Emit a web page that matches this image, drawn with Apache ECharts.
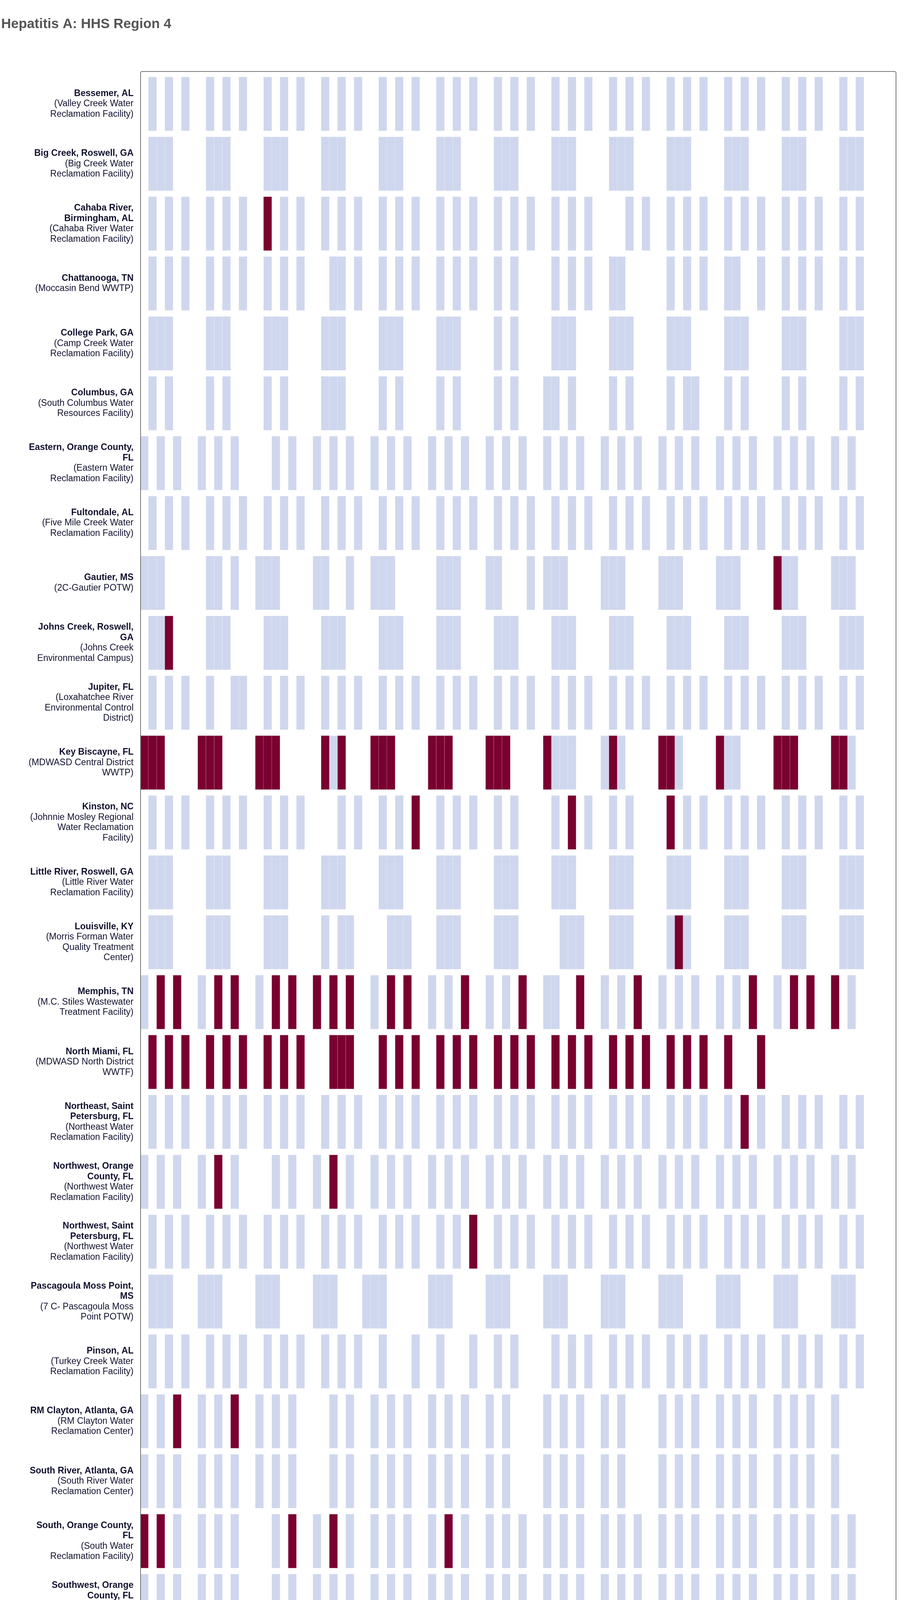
<!DOCTYPE html>
<html>
<head>
<meta charset="utf-8">
<title>Hepatitis A: HHS Region 4</title>
<script src="https://cdn.jsdelivr.net/npm/echarts@6/dist/echarts.min.js"></script>
<style>
	html, body { margin: 0; padding: 0; background: #fff; }
	#chart { width: 2336px; height: 5252px; }
</style>
</head>
<body>
<div id="chart"></div>
<script>
	/*----------------数据-------------------*/
	// day 0 = May 3

	var siteNames = [
		'Bessemer, AL', 'Big Creek, Roswell, GA', 'Cahaba River,\nBirmingham, AL', 'Chattanooga, TN',
		'College Park, GA', 'Columbus, GA', 'Eastern, Orange County,\nFL', 'Fultondale, AL',
		'Gautier, MS', 'Johns Creek, Roswell,\nGA', 'Jupiter, FL', 'Key Biscayne, FL',
		'Kinston, NC', 'Little River, Roswell, GA', 'Louisville, KY', 'Memphis, TN',
		'North Miami, FL', 'Northeast, Saint\nPetersburg, FL', 'Northwest, Orange\nCounty, FL', 'Northwest, Saint\nPetersburg, FL',
		'Pascagoula Moss Point,\nMS', 'Pinson, AL', 'RM Clayton, Atlanta, GA', 'South River, Atlanta, GA',
		'South, Orange County,\nFL', 'Southwest, Orange\nCounty, FL', 'Southwest, Saint\nPetersburg, FL', 'Tallahassee, FL',
		'Utoy Creek, Atlanta, GA', 'Village Creek,\nBirmingham, AL', 'Wilson, NC', 'Winston-Salem, NC'
	];

	var facilityNames = [
		'(Valley Creek Water\nReclamation Facility)', '(Big Creek Water\nReclamation Facility)',
		'(Cahaba River Water\nReclamation Facility)', '(Moccasin Bend WWTP)',
		'(Camp Creek Water\nReclamation Facility)', '(South Columbus Water\nResources Facility)',
		'(Eastern Water\nReclamation Facility)', '(Five Mile Creek Water\nReclamation Facility)',
		'(2C-Gautier POTW)', '(Johns Creek\nEnvironmental Campus)',
		'(Loxahatchee River\nEnvironmental Control\nDistrict)', '(MDWASD Central District\nWWTP)',
		'(Johnnie Mosley Regional\nWater Reclamation\nFacility)', '(Little River Water\nReclamation Facility)',
		'(Morris Forman Water\nQuality Treatment\nCenter)', '(M.C. Stiles Wastewater\nTreatment Facility)',
		'(MDWASD North District\nWWTF)', '(Northeast Water\nReclamation Facility)',
		'(Northwest Water\nReclamation Facility)', '(Northwest Water\nReclamation Facility)',
		'(7 C- Pascagoula Moss\nPoint POTW)', '(Turkey Creek Water\nReclamation Facility)',
		'(RM Clayton Water\nReclamation Center)', '(South River Water\nReclamation Center)',
		'(South Water\nReclamation Facility)', '(Hamlin Water\nReclamation Facility)',
		'(Southwest Water\nReclamation Facility)', '(TPSmith Water\nReclamation Facility)',
		'(Utoy Creek Water\nReclamation Center)', '(Village Creek Water\nReclamation Facility)',
		'(City of Wilson - Hominy\nCreek Water Reclamation\nFacility)', '(Archie Elledge WWTP)'
	];

	// collection days (days after May 3), one list per site
	var sampleDays = [
		[1,3,5,8,10,12,15,17,19,22,24,26,29,31,33,36,38,40,43,45,47,50,52,54,57,59,61,64,66,68,71,73,75,78,80,82,85,87],
		[1,2,3,8,9,10,15,16,17,22,23,24,29,30,31,36,37,38,43,44,45,50,51,52,57,58,59,64,65,66,71,72,73,78,79,80,85,86,87],
		[1,3,5,8,10,12,15,17,19,22,24,26,29,31,33,36,38,40,43,45,47,50,52,54,59,61,64,66,68,71,73,75,78,80,82,85,87],
		[1,3,5,8,10,12,15,17,19,23,24,26,29,31,33,36,38,40,43,45,50,52,54,57,58,64,66,68,71,72,75,78,80,82,85,87],
		[1,2,3,8,9,10,15,16,17,22,23,24,29,30,31,36,37,38,43,45,50,51,52,57,58,59,64,65,66,71,72,73,78,79,80,85,86,87],
		[1,3,8,10,15,17,22,23,24,29,31,36,38,43,45,49,50,52,57,59,64,66,67,71,73,78,80,85,87],
		[0,2,4,7,9,11,16,18,21,23,25,28,30,32,35,37,39,42,44,46,49,51,53,56,58,60,63,65,67,70,72,74,77,79,81,84,86],
		[1,3,5,8,10,12,15,17,19,22,24,26,29,31,33,36,38,40,43,45,47,50,52,54,57,59,61,64,66,68,71,73,75,78,80,82,85,87],
		[0,1,2,8,9,11,14,15,16,21,22,25,28,29,30,36,37,38,42,43,47,49,50,51,56,57,58,63,64,65,70,71,72,77,78,79,84,85,86],
		[1,2,3,8,9,10,15,16,17,22,23,24,29,30,31,36,37,38,43,44,45,50,51,52,57,58,59,64,65,66,71,72,73,78,79,80,85,86,87],
		[1,3,5,8,11,12,15,17,19,22,24,26,29,31,33,36,38,40,43,45,47,50,52,54,57,59,61,64,66,68,71,73,75,78,80,82,85,87],
		[0,1,2,7,8,9,14,15,16,22,23,24,28,29,30,35,36,37,42,43,44,49,50,51,52,56,57,58,63,64,65,70,71,72,77,78,79,84,85,86],
		[1,3,5,8,10,12,15,17,19,24,26,29,31,33,36,38,40,43,45,50,52,54,57,59,64,66,68,71,73,75,78,80,82,85,87],
		[1,2,3,8,9,10,15,16,17,22,23,24,29,30,31,36,37,38,43,44,45,50,51,52,57,58,59,64,65,66,71,72,73,78,79,80,85,86,87],
		[1,2,3,8,9,10,15,16,17,22,24,25,30,31,32,36,37,38,43,44,45,51,52,53,57,58,59,64,65,66,71,72,73,78,79,80,85,86,87],
		[0,2,4,7,9,11,14,16,18,21,23,25,28,30,32,35,37,39,42,44,46,49,50,53,56,58,60,63,65,67,70,72,74,77,79,81,84,86],
		[1,3,5,8,10,12,15,17,19,23,24,25,29,31,33,36,38,40,43,45,47,50,52,54,57,59,61,64,66,68,71,75],
		[1,3,5,8,10,12,15,17,19,22,24,26,29,31,33,36,38,40,43,45,47,50,52,54,57,59,61,64,66,68,71,73,75,78,80,82,85,87],
		[0,2,4,7,9,11,16,18,21,23,25,28,30,32,35,37,39,42,44,46,49,51,53,56,58,60,63,65,67,70,72,74,77,79,81,84,86],
		[1,3,5,8,10,12,15,17,19,22,24,26,29,31,33,36,38,40,43,45,47,50,52,54,57,59,61,64,66,68,71,73,75,78,80,82,85,87],
		[1,2,3,7,8,9,14,15,16,21,22,23,27,28,29,35,36,37,42,43,44,49,50,51,56,57,58,63,64,65,70,71,72,77,78,79,84,85,86],
		[1,3,5,8,10,12,15,17,19,22,24,26,29,33,36,40,43,45,50,52,54,57,59,61,64,66,68,71,73,75,78,80,82,85,87],
		[0,2,4,7,9,11,14,16,18,23,25,28,30,32,35,37,39,42,44,49,51,53,56,58,63,65,67,70,72,74,77,79,81,84],
		[0,2,4,7,9,11,14,16,18,23,25,28,30,32,35,37,39,42,44,49,51,53,56,58,63,65,67,70,72,74,77,79,81,84],
		[0,2,4,7,9,11,16,18,21,23,25,28,30,32,35,37,39,42,44,46,49,51,53,56,58,60,63,65,67,70,72,74,77,79,81,84,86],
		[0,2,4,7,9,11,16,18,21,23,25,28,30,32,35,37,39,42,44,46,49,51,53,56,58,60,63,65,67,70,72,74,77,79,81,84,86],
		[1,3,5,8,10,12,15,17,19,22,24,26,29,31,33,36,38,40,43,45,47,50,52,54,57,59,61,64,66,68,71,73,75,78,80,82,85,87],
		[0,2,4,7,9,11,14,16,18,21,23,25,28,30,32,35,37,39,42,44,45,46,49,51,53,56,58,60,63,65,67,70,72,74,77,79,81,84,86],
		[0,2,4,7,9,11,14,16,18,23,25,28,30,32,35,37,39,42,44,49,51,53,56,58,63,65,67,70,72,74,77,79,81,84],
		[1,3,5,8,10,12,15,17,19,23,24,26,29,31,33,36,38,40,43,45,47,52,54,57,59,61,64,66,68,71,73,75,78,80,82,86,87],
		[1,3,5,8,10,12,15,17,19,24,26,29,31,33,36,38,40,43,45,47,50,52,54,57,64,66,68,71,73,75,78,80,82,85,87],
		[1,5,8,10,12,15,17,19,24,26,29,31,33,36,38,40,43,45,50,52,54,57,59,66,68,71,73,75,78,80,82,85,88]
	];

	// days with a detection, same order as sampleDays
	var detectedDays = [
		[], [], [15], [], [], [], [], [],
		[77], [3], [],
		[0,1,2,7,8,9,14,15,16,22,24,28,29,30,35,36,37,42,43,44,49,57,63,64,70,77,78,79,84,85],
		[33,52,64], [], [65],
		[2,4,9,11,16,18,21,23,25,30,32,39,46,53,60,74,79,81,84],
		[1,3,5,8,10,12,15,17,19,23,24,25,29,31,33,36,38,40,43,45,47,50,52,54,57,59,61,64,66,68,71,75],
		[73], [9,23], [40], [], [], [4,11], [],
		[0,2,18,23,37], [], [45], [60], [39], [8,10,66], [], []
	];

	var tickDays = [0, 7, 14, 21, 28, 35, 42, 49, 56, 63, 70, 77, 84, 91];
	var tickLabels = ['May 3', 'May 10', 'May 17', 'May 24', 'May 31', 'Jun 7', 'Jun 14',
		'Jun 21', 'Jun 28', 'Jul 5', 'Jul 12', 'Jul 19', 'Jul 26', 'Aug 2'];

	var colorNotDetected = '#cfd7ee';
	var colorDetected = '#79002f';
	var textColor = '#10102e';
	var fontName = '"Liberation Sans", Arial, Helvetica, sans-serif';

	/*----------------整理数据-------------------*/
	var notDetectedData = [];
	var detectedData = [];
	for (var r = 0; r < sampleDays.length; r++) {
		for (var k = 0; k < sampleDays[r].length; k++) {
			var day = sampleDays[r][k];
			if (detectedDays[r].indexOf(day) >= 0) {
				detectedData.push([day, r]);
			} else {
				notDetectedData.push([day, r]);
			}
		}
	}

	// one tile per collection day
	function renderTile(params, api) {
		var start = api.coord([api.value(0), api.value(1)]);
		var end = api.coord([api.value(0) + 1, api.value(1)]);
		var h = api.size([0, 1])[1] * 0.9;
		return {
			type: 'rect',
			shape: { x: start[0], y: start[1] - h / 2, width: end[0] - start[0], height: h },
			style: { fill: api.visual('color'), stroke: 'rgba(255,255,255,0.25)', lineWidth: 1 }
		};
	}

	function siteLabel(value, index) {
		var lines = [];
		siteNames[index].split('\n').forEach(function (s) { lines.push('{b|' + s + '}'); });
		facilityNames[index].split('\n').forEach(function (s) { lines.push('{n|' + s + '}'); });
		return lines.join('\n');
	}

	/*----------------渲染图表-------------------*/
	var chart = echarts.init(document.getElementById('chart'), null, { renderer: 'canvas' });
	var option = {
		backgroundColor: '#fff',
		animation: false,
		textStyle: { fontFamily: fontName },
		title: {
			text: 'Hepatitis A: HHS Region 4',
			left: -2,
			top: 40,
			textStyle: { fontFamily: fontName, fontSize: 35, fontWeight: 'bold', color: '#555' }
		},
		grid: {
			left: 359,
			right: 41,
			top: 189.3,
			bottom: 157,
			outerBoundsMode: 'none',
			containLabel: false
		},
		xAxis: {
			type: 'value',
			min: 0,
			max: 91.9,
			interval: 7,
			offset: 7,
			name: 'Collection Date',
			nameLocation: 'middle',
			nameGap: 51,
			nameTextStyle: { fontFamily: fontName, fontSize: 30, color: '#111' },
			splitLine: { show: false },
			axisLine: { show: false },
			axisTick: {
				show: true,
				length: 11,
				customValues: tickDays,
				lineStyle: { color: '#777', width: 2 }
			},
			axisLabel: {
				margin: 13,
				fontSize: 23,
				color: textColor,
				customValues: tickDays,
				formatter: function (v) {
					var i = tickDays.indexOf(v);
					return i >= 0 ? tickLabels[i] : '';
				}
			}
		},
		yAxis: {
			type: 'category',
			inverse: true,
			data: siteNames,
			axisLine: { show: false },
			axisTick: { show: false },
			splitLine: { show: false },
			axisLabel: {
				margin: 17,
				interval: 0,
				formatter: siteLabel,
				rich: {
					b: { fontFamily: fontName, fontSize: 23, fontWeight: 'bold', color: textColor, lineHeight: 26.5, align: 'right' },
					n: { fontFamily: fontName, fontSize: 23, color: textColor, lineHeight: 26.5, align: 'right' }
				}
			}
		},
		legend: {
			left: 437,
			top: 5212,
			orient: 'horizontal',
			icon: 'rect',
			itemWidth: 15,
			itemHeight: 24,
			itemGap: 33,
			selectedMode: false,
			textStyle: { fontFamily: fontName, fontSize: 22, color: '#666', padding: [0, 0, 0, 10] },
			data: [
				{ name: 'Not detected', itemStyle: { color: '#b4c4e6' } },
				{ name: 'Detected', itemStyle: { color: colorDetected } }
			]
		},
		graphic: [
			{
				type: 'rect',
				z: 100,
				silent: true,
				shape: { x: 360, y: 183, width: 1935, height: 4919, r: 4 },
				style: { fill: 'none', stroke: '#777', lineWidth: 2 }
			},
			{
				type: 'text',
				left: 361,
				top: 5214,
				style: { text: 'Level:', fontFamily: fontName, fontSize: 22, fill: '#666' }
			}
		],
		series: [
			{
				name: 'Not detected',
				type: 'custom',
				renderItem: renderTile,
				encode: { x: 0, y: 1 },
				itemStyle: { color: colorNotDetected },
				data: notDetectedData
			},
			{
				name: 'Detected',
				type: 'custom',
				renderItem: renderTile,
				encode: { x: 0, y: 1 },
				itemStyle: { color: colorDetected },
				data: detectedData
			}
		]
	};
	chart.setOption(option);
</script>
</body>
</html>
